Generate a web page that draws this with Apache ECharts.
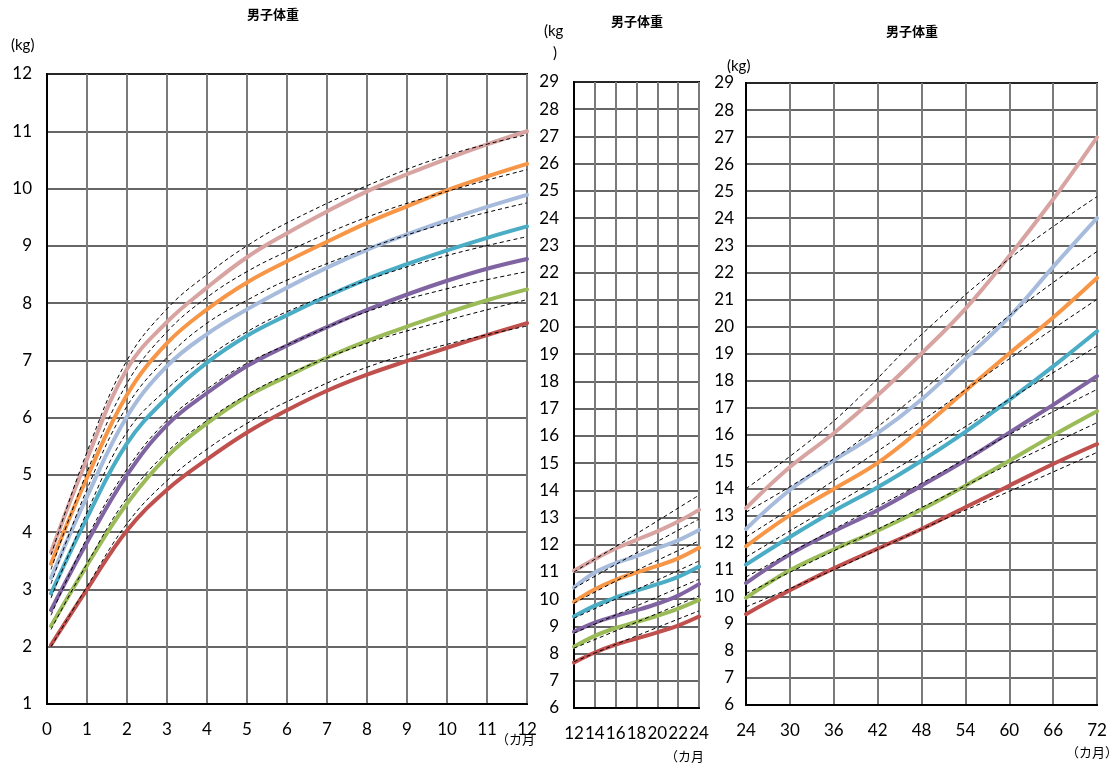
<!DOCTYPE html>
<html>
<head>
<meta charset="utf-8">
<script src="https://cdn.jsdelivr.net/npm/echarts@6/dist/echarts.min.js"></script>
<style>
    html, body { margin: 0; padding: 0; background: #fff; }
    #chart { width: 1118px; height: 771px; }
</style>
</head>
<body>
<div id="chart"></div>
<script>
// line order in every block: 97th, 90th, 75th, 50th, 25th, 10th, 3rd (top to bottom at start)
const infantMonths = [0.1, 1, 2, 3, 4, 5, 6, 7, 8, 9, 10, 11, 12];
const infantSolid = [
    [3.65, 5.28, 6.85, 7.67, 8.27, 8.80, 9.22, 9.60, 9.95, 10.25, 10.52, 10.77, 11.00],
    [3.45, 4.95, 6.40, 7.30, 7.89, 8.36, 8.73, 9.07, 9.40, 9.69, 9.97, 10.21, 10.43],
    [3.20, 4.62, 6.02, 6.90, 7.46, 7.89, 8.27, 8.62, 8.93, 9.20, 9.45, 9.68, 9.89],
    [2.93, 4.25, 5.55, 6.35, 6.96, 7.43, 7.79, 8.12, 8.42, 8.68, 8.92, 9.14, 9.34],
    [2.64, 3.82, 5.00, 5.87, 6.43, 6.90, 7.26, 7.58, 7.88, 8.15, 8.39, 8.60, 8.77],
    [2.36, 3.42, 4.50, 5.32, 5.90, 6.37, 6.72, 7.05, 7.34, 7.59, 7.83, 8.05, 8.24],
    [2.03, 3.00, 4.03, 4.74, 5.27, 5.74, 6.13, 6.47, 6.75, 6.99, 7.22, 7.44, 7.65]
];
const infantDashMonths = [0.1, 1, 2, 3, 4, 5, 6, 8, 10, 12];
const infantDashed = [
    [3.60, 5.40, 7.00, 7.90, 8.50, 9.00, 9.40, 10.05, 10.58, 10.94],
    [3.35, 5.05, 6.60, 7.50, 8.10, 8.55, 8.90, 9.50, 9.95, 10.33],
    [3.10, 4.75, 6.20, 7.05, 7.65, 8.05, 8.40, 8.95, 9.40, 9.75],
    [2.85, 4.35, 5.75, 6.50, 7.05, 7.50, 7.85, 8.40, 8.83, 9.16],
    [2.55, 3.90, 5.10, 5.95, 6.50, 6.95, 7.27, 7.85, 8.25, 8.55],
    [2.30, 3.45, 4.60, 5.40, 5.95, 6.40, 6.75, 7.30, 7.70, 8.06],
    [2.00, 3.05, 4.15, 4.90, 5.45, 5.90, 6.28, 6.88, 7.28, 7.60]
];

const toddlerMonths = [12, 14, 16, 18, 20, 22, 24];
const toddlerSolid = [
    [11.04, 11.47, 11.86, 12.18, 12.49, 12.85, 13.28],
    [10.43, 10.98, 11.32, 11.58, 11.87, 12.16, 12.54],
    [9.90, 10.36, 10.71, 10.98, 11.22, 11.50, 11.89],
    [9.36, 9.76, 10.06, 10.31, 10.55, 10.82, 11.20],
    [8.80, 9.14, 9.38, 9.59, 9.83, 10.13, 10.55],
    [8.25, 8.65, 8.94, 9.16, 9.39, 9.65, 9.97],
    [7.67, 8.04, 8.33, 8.55, 8.78, 9.03, 9.36]
];
const toddlerDashMonths = [12, 18, 24];
const toddlerDashed = [
    [11.00, 12.40, 13.82],
    [10.40, 11.70, 12.94],
    [9.85, 11.05, 12.14],
    [9.30, 10.35, 11.40],
    [8.75, 9.75, 10.73],
    [8.20, 9.15, 10.12],
    [7.70, 8.65, 9.57]
];

const childMonths = [24, 30, 36, 42, 48, 54, 60, 66, 72];
const childSolid = [
    [13.28, 14.80, 16.05, 17.45, 19.00, 20.65, 22.60, 24.70, 26.99],
    [12.51, 13.95, 15.05, 16.05, 17.30, 18.80, 20.35, 22.20, 24.00],
    [11.87, 13.02, 13.99, 14.95, 16.22, 17.62, 19.00, 20.33, 21.79],
    [11.19, 12.21, 13.17, 14.05, 15.03, 16.10, 17.28, 18.52, 19.82],
    [10.51, 11.57, 12.42, 13.20, 14.11, 15.05, 16.07, 17.10, 18.16],
    [9.96, 10.98, 11.75, 12.45, 13.23, 14.11, 15.03, 15.97, 16.86],
    [9.36, 10.24, 11.05, 11.78, 12.51, 13.31, 14.11, 14.91, 15.65]
];
const childDashMonths = [24, 36, 48, 60, 72];
const childDashed = [
    [14.00, 16.50, 19.70, 22.50, 24.80],
    [13.13, 15.10, 17.60, 20.40, 22.77],
    [12.21, 14.30, 16.50, 18.80, 21.00],
    [11.47, 13.40, 15.30, 17.30, 19.27],
    [10.73, 12.50, 14.20, 16.00, 17.67],
    [10.12, 11.70, 13.30, 14.90, 16.44],
    [9.63, 11.00, 12.50, 13.90, 15.34]
];

const PINK = '#d8a4a2', ORANGE = '#f79646', LIGHTBLUE = '#a7bcdc', CYAN = '#4bacc6',
    PURPLE = '#8064a2', GREEN = '#9bbb59', RED = '#c0504d';
const infantColors = [PINK, ORANGE, LIGHTBLUE, CYAN, PURPLE, GREEN, RED];
const laterColors = [PINK, LIGHTBLUE, ORANGE, CYAN, PURPLE, GREEN, RED];

const FONT = 'Lato, "Noto Sans", sans-serif';
const CJK = '"Noto Sans CJK JP", sans-serif';

const panels = [
    { rect: [47, 74, 480, 630], x: [0, 12, 1], y: [1, 12, 1], months: infantMonths, solid: infantSolid,
      dashMonths: infantDashMonths, dashed: infantDashed, colors: infantColors },
    { rect: [574, 82, 125, 626], x: [12, 24, 2], y: [6, 29, 1], months: toddlerMonths, solid: toddlerSolid,
      dashMonths: toddlerDashMonths, dashed: toddlerDashed, colors: laterColors },
    { rect: [746, 83, 351, 622], x: [24, 72, 6], y: [6, 29, 1], months: childMonths, solid: childSolid,
      dashMonths: childDashMonths, dashed: childDashed, colors: laterColors }
];

const pairs = (xs, ys) => xs.map((x, i) => [x, ys[i]]);

const grid = [], xAxis = [], yAxis = [], series = [];
panels.forEach((p, idx) => {
    const [left, top, width, height] = p.rect;
    grid.push({ left, top, width, height, show: true, borderColor: '#000', borderWidth: 2, backgroundColor: '#fff' });
    xAxis.push({
        type: 'value', gridIndex: idx, min: p.x[0], max: p.x[1], interval: p.x[2],
        axisLine: { show: true, lineStyle: { color: '#000', width: 2 } },
        axisTick: { show: false },
        axisLabel: { fontSize: 17, color: '#000', fontFamily: FONT, margin: 17, hideOverlap: false },
        splitLine: { show: true, lineStyle: { color: '#7a7a7a', width: 2 } }
    });
    yAxis.push({
        type: 'value', gridIndex: idx, min: p.y[0], max: p.y[1], interval: p.y[2],
        axisLine: { show: true, lineStyle: { color: '#000', width: 2 } },
        axisTick: { show: false },
        axisLabel: { fontSize: 17, color: '#000', fontFamily: FONT, margin: idx === 2 ? 12 : 15 },
        splitLine: { show: true, lineStyle: { color: '#333', width: 1.5 } }
    });
    p.solid.forEach((row, i) => {
        series.push({
            type: 'line', xAxisIndex: idx, yAxisIndex: idx, data: pairs(p.months, row),
            smooth: 0.4, symbol: 'none', silent: true,
            lineStyle: { color: p.colors[i], width: 4, cap: 'round' }
        });
    });
    p.dashed.forEach(row => {
        series.push({
            type: 'line', xAxisIndex: idx, yAxisIndex: idx, data: pairs(p.dashMonths, row),
            smooth: 0.4, symbol: 'none', silent: true, z: 3,
            lineStyle: { color: '#000', width: 1, type: [4, 3] }
        });
    });
});

const title = (x, y) => ({
    type: 'text', left: x, top: y,
    style: { text: '男子体重', font: `bold 13px ${CJK}`, fill: '#000' }
});
const note = (x, y, text, size = 15) => ({
    type: 'text', left: x, top: y,
    style: { text, font: `${size}px ${FONT}`, fill: '#000' }
});
const noteCjk = (x, y, text) => ({
    type: 'text', left: x, top: y,
    style: { text, font: `13px ${CJK}`, fill: '#000' }
});

const chart = echarts.init(document.getElementById('chart'), null, { renderer: 'canvas' });
chart.setOption({
    animation: false,
    grid, xAxis, yAxis, series,
    graphic: [
        title(247, 8), title(611, 15), title(886, 25),
        note(11, 38, '(kg)'),
        note(544, 24, '(kg'), note(553, 46, ')'),
        note(727, 59, '(kg)'),
        noteCjk(496, 733, '（カ月'),
        noteCjk(665, 750, '（カ月'),
        noteCjk(1066, 746, '（カ月）')
    ]
});
</script>
</body>
</html>
